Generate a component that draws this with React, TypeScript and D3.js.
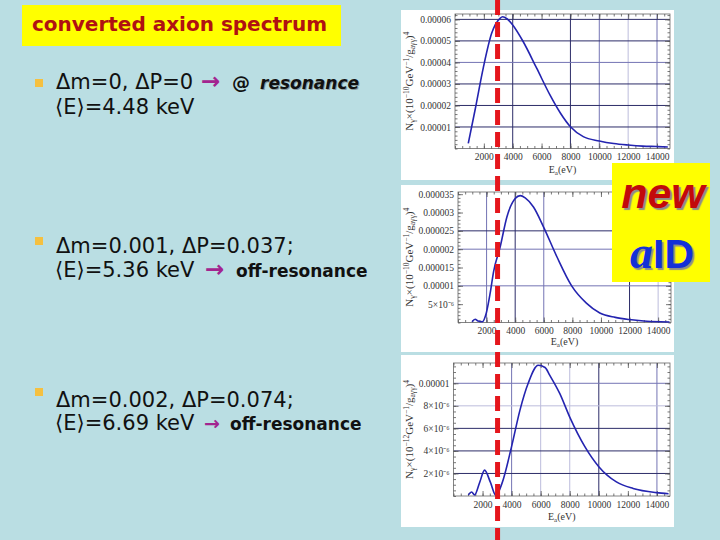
import React, {useEffect, useRef} from 'react';
import * as d3 from 'd3';

// spectra: [E in eV, N in units of 1e-6]
const spectrumResonance: [number, number][] = [
	[920, 2.4], [1390, 17.9], [1960, 37.5], [2540, 53.5], [3120, 60.5], [3300, 61.2],
	[3600, 60.3], [4000, 57.4], [4730, 49.6], [5660, 37.3], [6580, 24.9], [7300, 16.5],
	[8000, 10.1], [8890, 5.5], [10000, 3.5], [11000, 2.3], [12000, 1.6], [13000, 1.1],
	[14000, 0.9], [14750, 0.7]
];
const spectrumOff1: [number, number][] = [
	[980, 0.2], [1200, 0.9], [1400, 0.4], [1700, 0.2], [1980, 2.6], [2250, 8], [2490, 13.9],
	[2955, 20.7], [3420, 28.8], [4000, 33.8], [4350, 34.6], [4700, 34], [5280, 31.5],
	[5980, 26.1], [6910, 18], [7950, 10], [8980, 5.3], [9920, 2.6], [11000, 1.4],
	[11980, 0.8], [13000, 0.4], [14150, 0.2], [14800, 0.15]
];
const spectrumOff2: [number, number][] = [
	[1020, 0.1], [1250, 0.35], [1450, 0.1], [1800, 1.2], [2140, 2.3], [2530, 1.25],
	[2920, 0.05], [3330, 1.1], [4000, 4.4], [4570, 7.6], [5140, 10], [5830, 11.6],
	[6300, 11.4], [6630, 10.7], [7310, 9.1], [8000, 7.0], [9030, 4.4], [10000, 2.6],
	[11210, 1.25], [12360, 0.67], [13970, 0.3], [14800, 0.2]
];

const xTicks = [2000, 4000, 6000, 8000, 10000, 12000, 14000];

const yTicks1 = [10, 20, 30, 40, 50, 60];
const yLabels1 = ['0.00001', '0.00002', '0.00003', '0.00004', '0.00005', '0.00006'];
const yTicks2 = [5, 10, 15, 20, 25, 30, 35];
const yLabels2 = ['5×10⁻⁶', '0.00001', '0.000015', '0.00002', '0.000025', '0.00003', '0.000035'];
const yTicks3 = [2, 4, 6, 8, 10];
const yLabels3 = ['2×10⁻⁶', '4×10⁻⁶', '6×10⁻⁶', '8×10⁻⁶', '0.00001'];

// grid lines: [value, tone]
const gridX1: [number, string][] = [[4000, 'dark'], [8000, 'dark'], [10000, 'mid'], [12000, 'light'], [14000, 'mid']];
const gridY1: [number, string][] = [[10, 'dark'], [20, 'dark'], [30, 'dark'], [40, 'mid'], [50, 'dark'], [60, 'dark']];
const gridX2: [number, string][] = [[2000, 'mid'], [4000, 'dark'], [6000, 'mid'], [12000, 'dark'], [14000, 'light']];
const gridY2: [number, string][] = [[10, 'mid'], [20, 'mid'], [25, 'dark']];
const gridX3: [number, string][] = [[4000, 'mid'], [6000, 'light'], [8000, 'light'], [10000, 'dark'], [14000, 'mid']];
const gridY3: [number, string][] = [[2, 'dark'], [4, 'dark'], [6, 'dark'], [8, 'light'], [10, 'mid']];

const resonanceE = 2950;

const tones: Record<string, string> = {dark: '#2c2c68', mid: '#7474b4', light: '#bcbcdc'};
const tickFont = '"Liberation Serif", "Times New Roman", serif';
const sansFont = '"DejaVu Sans", Verdana, sans-serif';
const BG = '#badee3';

const xMax = 14900;

function Panel({box, frame, yMax, data, yTicks, yLabels, yMinor, gridX, gridY, exp}: any) {
	const axRef = useRef<SVGGElement>(null);
	const x = d3.scaleLinear().domain([0, xMax]).range([frame.l, frame.r]);
	const y = d3.scaleLinear().domain([0, yMax]).range([frame.b, frame.t]);

	const lineGen = d3.line<[number, number]>()
		.x(d => x(d[0]))
		.y(d => y(d[1]))
		.curve(d3.curveMonotoneX);

	useEffect(() => {
		const g = d3.select(axRef.current);
		g.selectAll('*').remove();

		const style = (sel: any) => {
			sel.select('.domain').remove();
			sel.selectAll('line').attr('stroke', '#555').attr('stroke-width', 0.8);
			sel.selectAll('text')
				.attr('fill', '#333')
				.style('font-family', tickFont)
				.style('font-size', '9.5px');
		};

		// major
		g.append('g').attr('transform', `translate(${frame.l},0)`)
			.call(d3.axisLeft(y).tickValues(yTicks).tickSize(-5).tickPadding(4)
				.tickFormat((d, i) => yLabels[i]))
			.call(style);
		g.append('g').attr('transform', `translate(0,${frame.b})`)
			.call(d3.axisBottom(x).tickValues(xTicks).tickSize(-5).tickPadding(5)
				.tickFormat(d3.format('d')))
			.call(style);
		g.append('g').attr('transform', `translate(${frame.r},0)`)
			.call(d3.axisRight(y).tickValues(yTicks).tickSize(-5).tickFormat(() => ''))
			.call(style);
		g.append('g').attr('transform', `translate(0,${frame.t})`)
			.call(d3.axisTop(x).tickValues(xTicks).tickSize(-5).tickFormat(() => ''))
			.call(style);
		// minor
		g.append('g').attr('transform', `translate(${frame.l},0)`)
			.call(d3.axisLeft(y).ticks(yMinor).tickSize(-2.5).tickFormat(() => ''))
			.call(style);
		g.append('g').attr('transform', `translate(${frame.r},0)`)
			.call(d3.axisRight(y).ticks(yMinor).tickSize(-2.5).tickFormat(() => ''))
			.call(style);
		g.append('g').attr('transform', `translate(0,${frame.b})`)
			.call(d3.axisBottom(x).ticks(30).tickSize(-2.5).tickFormat(() => ''))
			.call(style);
		g.append('g').attr('transform', `translate(0,${frame.t})`)
			.call(d3.axisTop(x).ticks(30).tickSize(-2.5).tickFormat(() => ''))
			.call(style);
	});

	const midY = (frame.t + frame.b) / 2;
	const midX = (frame.l + frame.r) / 2;

	return (
		<g>
			<rect x={box.x} y={box.y} width={box.w} height={box.h} fill='#fff'/>
			{gridX.map(([v, t]: [number, string]) =>
				<line key={'gx' + v} x1={x(v)} x2={x(v)} y1={frame.t} y2={frame.b} stroke={tones[t]} strokeWidth={1}/>
			)}
			{gridY.map(([v, t]: [number, string]) =>
				<line key={'gy' + v} x1={frame.l} x2={frame.r} y1={y(v)} y2={y(v)} stroke={tones[t]} strokeWidth={1}/>
			)}
			<rect x={frame.l} y={frame.t} width={frame.r - frame.l} height={frame.b - frame.t}
				fill='none' stroke='#666' strokeWidth={0.8}/>
			<g ref={axRef}/>
			<path d={lineGen(data) || ''} fill='none' stroke='#2424b0' strokeWidth={1.6}/>
			<text transform={`translate(${box.x + 12},${midY}) rotate(-90)`} textAnchor='middle'
				fontFamily={tickFont} fontSize={11} fill='#333'>
				N<tspan fontSize={8} dy={2}>γ</tspan>
				<tspan dy={-2}>×(10</tspan>
				<tspan fontSize={7.5} dy={-4}>{exp}</tspan>
				<tspan dy={4}>GeV</tspan>
				<tspan fontSize={7.5} dy={-4}>−1</tspan>
				<tspan dy={4}>/g</tspan>
				<tspan fontSize={7.5} dy={2}>aγγ</tspan>
				<tspan dy={-2}>)</tspan>
				<tspan fontSize={7.5} dy={-4}>4</tspan>
			</text>
			<text x={midX} y={box.y + box.h - 7} textAnchor='middle' fontFamily={tickFont} fontSize={10} fill='#333'>
				E<tspan fontSize={7} dy={2}>a</tspan><tspan dy={-2}>(eV)</tspan>
			</text>
		</g>
	);
}

export default function App() {
	const p1 = {
		box: {x: 401, y: 10, w: 273, h: 170},
		frame: {l: 455, r: 670, t: 14, b: 148.5}
	};
	const p2 = {
		box: {x: 401, y: 185, w: 273, h: 167},
		frame: {l: 458, r: 671, t: 192, b: 322.5}
	};
	const p3 = {
		box: {x: 401, y: 355, w: 273, h: 172},
		frame: {l: 453.5, r: 670, t: 363, b: 496}
	};
	const xRes = d3.scaleLinear().domain([0, xMax]).range([p1.frame.l, p1.frame.r]);

	return (
		<svg width={720} height={540} style={{position: 'absolute', left: 0, top: 0, display: 'block'}}>
			<rect width={720} height={540} fill={BG}/>

			<rect x={22} y={5} width={319} height={41} fill='#ffff00'/>
			<text x={32} y={31} fontFamily={sansFont} fontWeight='bold' fontSize={20} fill='#b01212'>
				converted axion spectrum
			</text>

			<rect x={35} y={79} width={8} height={8} fill='#f5c040'/>
			<text x={56} y={89} fontFamily={sansFont} fontSize={21} fill='#111'>Δm=0, ΔP=0</text>
			<text x={201} y={89} fontFamily={sansFont} fontSize={23} fontWeight='bold' fill='#a3248f'>→</text>
			<text x={232} y={89} fontFamily={sansFont} fontSize={18} fontWeight='bold' fill='#111'>@</text>
			<text x={260} y={89} fontFamily={sansFont} fontSize={17} fontWeight='bold' fontStyle='italic'
				fill='#111' style={{textShadow: '1px 1px 0 #8a9a9e'}}>resonance</text>
			<text x={55} y={114} fontFamily={sansFont} fontSize={21} fill='#111'>⟨E⟩=4.48 keV</text>

			<rect x={35} y={237} width={8} height={8} fill='#f5c040'/>
			<text x={56} y={253} fontFamily={sansFont} fontSize={21} fill='#111'>Δm=0.001, ΔP=0.037;</text>
			<text x={55} y={277} fontFamily={sansFont} fontSize={21} fill='#111'>⟨E⟩=5.36 keV</text>
			<text x={205} y={277} fontFamily={sansFont} fontSize={23} fontWeight='bold' fill='#a3248f'>→</text>
			<text x={236} y={277} fontFamily={sansFont} fontSize={17} fontWeight='bold' fill='#111'>off-resonance</text>

			<rect x={35} y={388} width={8} height={8} fill='#f5c040'/>
			<text x={56} y={407} fontFamily={sansFont} fontSize={21} fill='#111'>Δm=0.002, ΔP=0.074;</text>
			<text x={55} y={430} fontFamily={sansFont} fontSize={21} fill='#111'>⟨E⟩=6.69 keV</text>
			<text x={204} y={430} fontFamily={sansFont} fontSize={19} fontWeight='bold' fill='#a3248f'>→</text>
			<text x={230} y={430} fontFamily={sansFont} fontSize={17} fontWeight='bold' fill='#111'>off-resonance</text>

			<Panel {...p1} yMax={62.5} data={spectrumResonance} yTicks={yTicks1} yLabels={yLabels1}
				yMinor={30} gridX={gridX1} gridY={gridY1} exp='−10'/>
			<Panel {...p2} yMax={35.6} data={spectrumOff1} yTicks={yTicks2} yLabels={yLabels2}
				yMinor={35} gridX={gridX2} gridY={gridY2} exp='−10'/>
			<Panel {...p3} yMax={11.8} data={spectrumOff2} yTicks={yTicks3} yLabels={yLabels3}
				yMinor={24} gridX={gridX3} gridY={gridY3} exp='−12'/>

			<line x1={xRes(resonanceE)} x2={xRes(resonanceE)} y1={0} y2={540}
				stroke='#e5161c' strokeWidth={5} strokeDasharray='15 7'/>

			<rect x={612} y={163} width={98} height={119} fill='#ffff00'/>
			<text x={663} y={208} textAnchor='middle' fontFamily='"Liberation Sans", Arial, sans-serif'
				fontWeight='bold' fontStyle='italic' fontSize={43} fill='#c20a0a'
				style={{textShadow: '2px 2px 1px #8c8c8c'}}>new</text>
			<text x={662} y={268} textAnchor='middle' fill='#1330d8' style={{textShadow: '2px 2px 1px #8c8c8c'}}>
				<tspan fontFamily='"Liberation Serif", serif' fontWeight='bold' fontStyle='italic' fontSize={46}>a</tspan>
				<tspan fontFamily='"Liberation Sans", Arial, sans-serif' fontWeight='bold' fontSize={41}>ID</tspan>
			</text>
		</svg>
	);
}
